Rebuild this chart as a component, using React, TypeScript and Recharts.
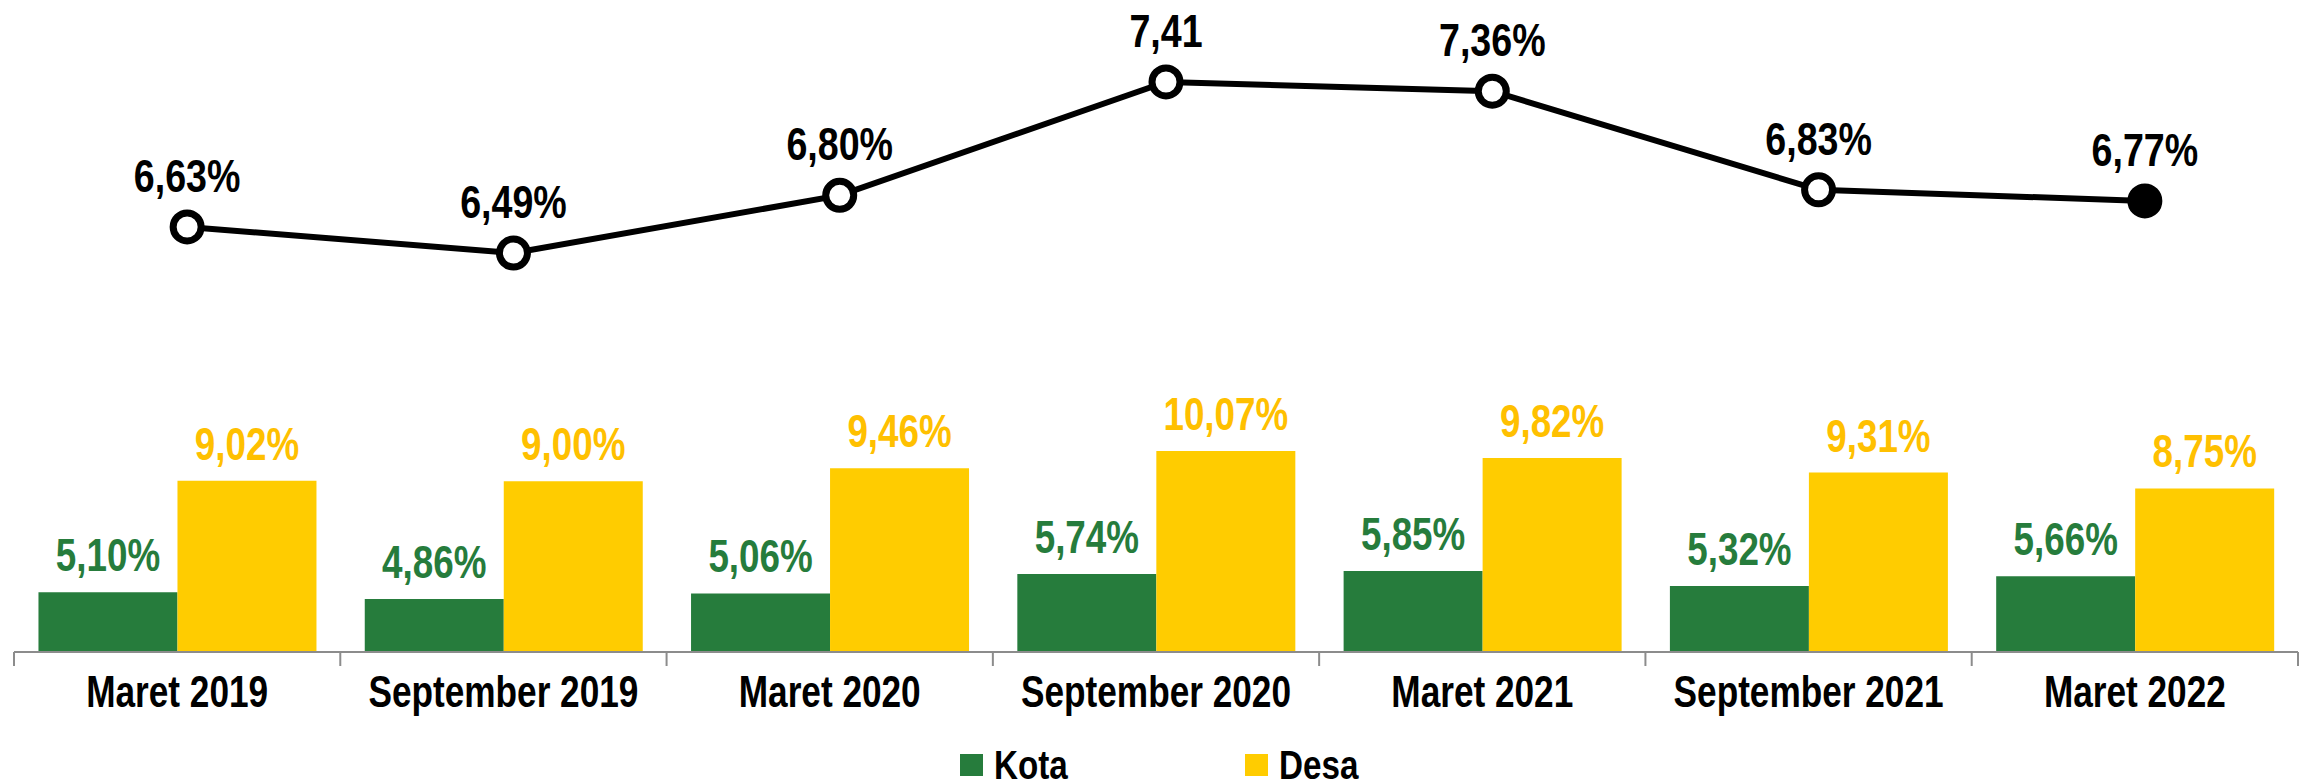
import {
  ComposedChart,
  Bar,
  Line,
  XAxis,
  YAxis,
  LabelList,
  Legend,
} from "recharts";

const FONT = "'Liberation Sans', Arial, sans-serif";
const NARROW = 0.8; // no Arial Narrow installed, squeeze the bold sans instead

const periods = [
  "Maret 2019",
  "September 2019",
  "Maret 2020",
  "September 2020",
  "Maret 2021",
  "September 2021",
  "Maret 2022",
];
const kota = [5.1, 4.86, 5.06, 5.74, 5.85, 5.32, 5.66];
const desa = [9.02, 9.0, 9.46, 10.07, 9.82, 9.31, 8.75];
const total = [6.63, 6.49, 6.8, 7.41, 7.36, 6.83, 6.77];
const totalLabels = ["6,63%", "6,49%", "6,80%", "7,41", "7,36%", "6,83%", "6,77%"];
const legendKeys = ["kota", "desa"];

const GREEN = "#267C3C";
const YELLOW = "#FFCC00";
const YELLOW_TEXT = "#FFC000";
const AXIS = "#8c8c8c";
const TICK_MARGIN = 24;
const TICK_LEN = 14;

const pct = (v: number) => v.toFixed(2).replace(".", ",") + "%";

const data = periods.map((p, i) => ({
  period: p,
  kota: kota[i],
  desa: desa[i],
  total: total[i],
  totalLabel: totalLabels[i],
}));

const NarrowText = ({ x, y, fill, fontSize, children }: any) => (
  <text
    x={0}
    y={0}
    transform={`translate(${x},${y}) scale(${NARROW},1)`}
    textAnchor="middle"
    fill={fill}
    fontSize={fontSize}
    fontWeight="bold"
    fontFamily={FONT}
  >
    {children}
  </text>
);

// category label plus the tick marks on the category borders
const CategoryTick = (props: any) => {
  const { x, y, payload, index, width, visibleTicksCount } = props;
  const half = (width || 2284) / (visibleTicksCount || data.length) / 2;
  const top = y - TICK_MARGIN;
  const last = index === (visibleTicksCount || data.length) - 1;
  return (
    <g>
      <line x1={x - half} x2={x - half} y1={top} y2={top + TICK_LEN} stroke={AXIS} strokeWidth={2} />
      {last && (
        <line x1={x + half} x2={x + half} y1={top} y2={top + TICK_LEN} stroke={AXIS} strokeWidth={2} />
      )}
      <NarrowText x={x} y={y + 44 * 0.71} fill="#000" fontSize={44}>
        {payload.value}
      </NarrowText>
    </g>
  );
};

// label sitting above a bar top or a line point
const topLabel = (fill: string, fontSize: number, gap: number, fmt?: (v: any) => string) =>
  (props: any) => {
    const vb = props.viewBox ?? props;
    const cx = vb.x + (vb.width ?? 0) / 2;
    return (
      <NarrowText key={`lbl-${props.index}`} x={cx} y={vb.y - gap} fill={fill} fontSize={fontSize}>
        {fmt ? fmt(props.value) : props.value}
      </NarrowText>
    );
  };

// white ring markers, the last one filled
const Dot = (props: any) => {
  const { cx, cy, index } = props;
  const last = index === data.length - 1;
  return (
    <circle
      key={`dot-${index}`}
      cx={cx}
      cy={cy}
      r={14}
      fill={last ? "#000" : "#fff"}
      stroke="#000"
      strokeWidth={7}
    />
  );
};

const LegendContent = (props: any) => {
  const items = legendKeys
    .map((k) => (props.payload || []).find((e: any) => e.dataKey === k))
    .filter(Boolean);
  return (
    <div
      style={{
        display: "flex",
        justifyContent: "center",
        alignItems: "center",
        height: 40,
        fontFamily: FONT,
      }}
    >
      {items.map((entry: any, i: number) => (
        <div
          key={entry.value}
          style={{
            display: "flex",
            alignItems: "center",
            flexShrink: 0,
            width: i < items.length - 1 ? 285 : 112,
            overflow: "visible",
          }}
        >
          <span
            style={{
              display: "inline-block",
              flexShrink: 0,
              width: 23,
              height: 22,
              background: entry.color,
              marginRight: 11,
            }}
          />
          <span
            style={{
              display: "inline-block",
              flexShrink: 0,
              fontSize: 40,
              fontWeight: "bold",
              lineHeight: "40px",
              color: "#000",
              whiteSpace: "nowrap",
              transform: `scaleX(${NARROW + 0.03})`,
              transformOrigin: "left center",
            }}
          >
            {entry.value}
          </span>
        </div>
      ))}
    </div>
  );
};

export default function App() {
  return (
    <div style={{ position: "absolute", left: 0, top: 0, background: "#fff" }}>
      <ComposedChart
        width={2308}
        height={784}
        data={data}
        margin={{ top: 10, right: 10, left: 14, bottom: 32 }}
        barCategoryGap="7.5%"
        barGap={0}
      >
        <XAxis
          dataKey="period"
          height={60}
          axisLine={{ stroke: AXIS, strokeWidth: 2 }}
          tickLine={false}
          tickSize={0}
          tickMargin={TICK_MARGIN}
          interval={0}
          tick={<CategoryTick />}
        />
        <XAxis
          xAxisId="line"
          dataKey="period"
          hide
          padding={{ left: 10, right: -10 }}
        />
        <YAxis yAxisId="bar" hide domain={[3, 25.57]} allowDataOverflow />
        <YAxis yAxisId="line" hide domain={[4.344, 7.797]} allowDataOverflow />
        <Legend
          content={<LegendContent />}
          wrapperStyle={{ top: 745, left: 4, width: 2308, height: 40 }}
        />
        <Bar dataKey="kota" name="Kota" yAxisId="bar" fill={GREEN} isAnimationActive={false}>
          <LabelList dataKey="kota" content={topLabel(GREEN, 46, 21, (v) => pct(Number(v)))} />
        </Bar>
        <Bar dataKey="desa" name="Desa" yAxisId="bar" fill={YELLOW} isAnimationActive={false}>
          <LabelList dataKey="desa" content={topLabel(YELLOW_TEXT, 46, 21, (v) => pct(Number(v)))} />
        </Bar>
        <Line
          dataKey="total"
          xAxisId="line"
          yAxisId="line"
          stroke="#000"
          strokeWidth={6}
          dot={Dot}
          activeDot={false}
          legendType="none"
          isAnimationActive={false}
        >
          <LabelList dataKey="totalLabel" content={topLabel("#000", 47, 35)} />
        </Line>
      </ComposedChart>
    </div>
  );
}
